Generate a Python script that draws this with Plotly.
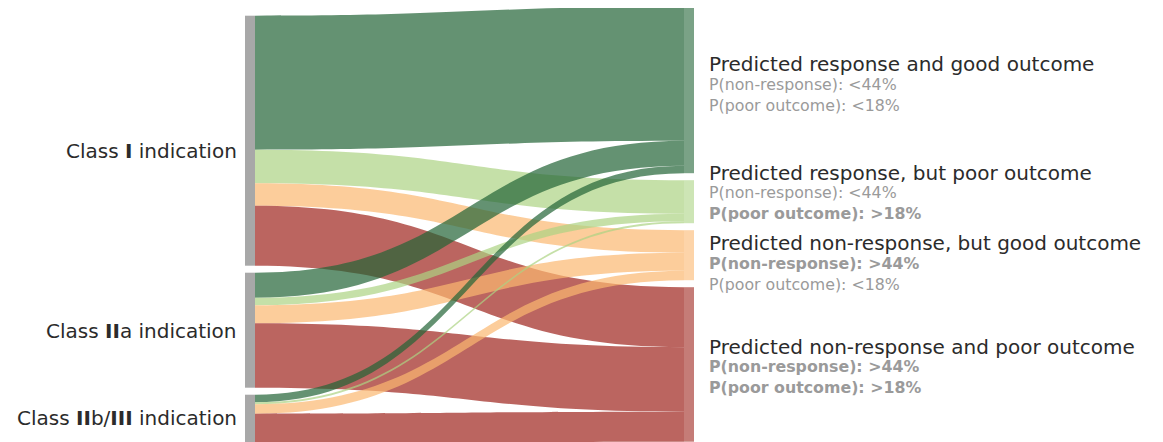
import plotly.graph_objects as go

# ---------------- data ----------------
source_labels = ["Class <b>I</b> indication",
                 "Class <b>II</b>a indication",
                 "Class <b>II</b>b/<b>III</b> indication"]
target_titles = ["Predicted response and good outcome",
                 "Predicted response, but poor outcome",
                 "Predicted non-response, but good outcome",
                 "Predicted non-response and poor outcome"]
target_sub1 = ["P(non-response): <44%", "P(non-response): <44%",
               "<b>P(non-response): >44%</b>", "<b>P(non-response): >44%</b>"]
target_sub2 = ["P(poor outcome): <18%", "<b>P(poor outcome): >18%</b>",
               "P(poor outcome): <18%", "<b>P(poor outcome): >18%</b>"]

# flows: rows = source class, columns = target outcome
flow_class_I = [134, 33.5, 22.5, 60]
flow_class_IIa = [25, 7.5, 18, 64.5]
flow_class_IIb_III = [7.5, 2, 9.5, 30]

# ---------------- styling / layout ----------------
target_rgb = [(34, 100, 54), (172, 211, 131), (251, 184, 112), (158, 36, 28)]
source_color = "rgb(168,168,168)"
FONT = "DejaVu Sans"

PAGE_OFF = 8            # default body margin of the html page
W, H = 1155, 435
ML, MR, MT, MB = 237, 469, 0, 0
PAD, THICK = 7, 10
RIGHT_TOP, LEFT_TOP = -1.3, 7.7   # where each column starts (px, plot coords)


def rgba(c, a):
    return f"rgba({c[0]},{c[1]},{c[2]},{a})"


flows = [flow_class_I, flow_class_IIa, flow_class_IIb_III]
n_src, n_tgt = len(source_labels), len(target_titles)
src, tgt, val, lcol = [], [], [], []
for i, row in enumerate(flows):
    for j, v in enumerate(row):
        src.append(i)
        tgt.append(n_src + j)
        val.append(v)
        lcol.append(rgba(target_rgb[j], 0.7))

pw = W - ML - MR
ph = H - MT - MB

# node ordering: keep the column order fixed (same scale d3-sankey uses)
src_tot = [sum(r) for r in flows]
tgt_tot = [sum(r[j] for r in flows) for j in range(n_tgt)]
ky = (ph - (max(n_src, n_tgt) - 1) * PAD) / sum(src_tot)


def centers(tots, top):
    out, y = [], top
    for t in tots:
        h = t * ky
        out.append((y + h / 2) / ph)
        y += h + PAD
    return out


node_x = [THICK / 2 / pw] * n_src + [1 - THICK / 2 / pw] * n_tgt
node_y = centers(src_tot, LEFT_TOP) + centers(tgt_tot, RIGHT_TOP)

node_colors = [source_color] * n_src + [rgba(c, 0.6) for c in target_rgb]

fig = go.Figure(go.Sankey(
    arrangement="fixed",
    node=dict(
        label=[""] * (n_src + n_tgt),
        x=node_x, y=node_y,
        color=node_colors,
        pad=PAD,
        thickness=THICK,
        line=dict(width=0),
        hoverinfo="none",
    ),
    link=dict(source=src, target=tgt, value=val, color=lcol,
              line=dict(width=0), hoverinfo="none"),
    textfont=dict(size=1, color="rgba(0,0,0,0)"),
))


def px(x):
    return (x - PAGE_OFF - ML) / pw


def py(y):
    return 1 - (y - PAGE_OFF - MT) / ph


annotations = []
left_y = [151, 331, 418]
for lab, y in zip(source_labels, left_y):
    annotations.append(dict(x=px(239), y=py(y), xref="paper", yref="paper",
                            text=lab, showarrow=False, xanchor="right", yanchor="middle",
                            font=dict(family=FONT, size=20, color="#2b2b2b")))

title_y = [64, 173, 243, 347]
sub_y = [94.5, 202.5, 273.5, 377]
for t, s1, s2, ty, sy in zip(target_titles, target_sub1, target_sub2, title_y, sub_y):
    annotations.append(dict(x=px(707), y=py(ty), xref="paper", yref="paper",
                            text=t, showarrow=False, xanchor="left", yanchor="middle",
                            font=dict(family=FONT, size=20, color="#2b2b2b")))
    annotations.append(dict(x=px(707), y=py(sy), xref="paper", yref="paper",
                            text=s1 + "<br>" + s2, showarrow=False, xanchor="left",
                            yanchor="middle", align="left",
                            font=dict(family=FONT, size=15.8, color="#9a9a9a")))

fig.update_layout(
    width=W, height=H,
    margin=dict(l=ML, r=MR, t=MT, b=MB, pad=0),
    paper_bgcolor="white", plot_bgcolor="white",
    font=dict(family=FONT),
    annotations=annotations,
    showlegend=False,
)

fig.write_html("out.html")
